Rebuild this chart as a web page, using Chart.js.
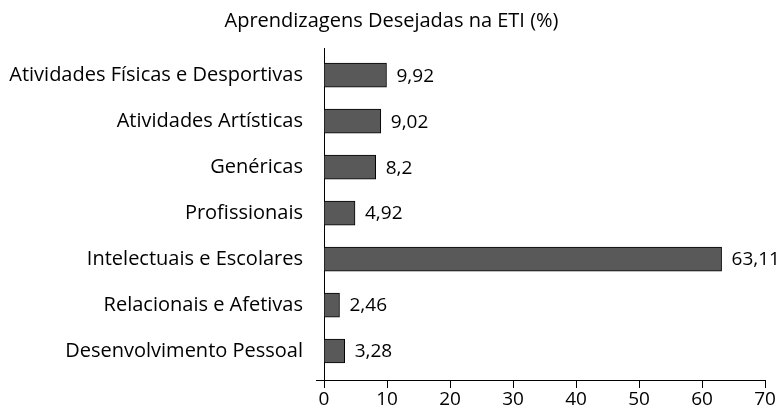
<!DOCTYPE html>
<html>
<head>
<meta charset="utf-8">
<script src="https://cdn.jsdelivr.net/npm/chart.js@4"></script>
<style>
  html, body { margin: 0; padding: 0; background: #fff; }
  #wrap { width: 783px; height: 411px; position: relative; }
</style>
</head>
<body>
<div id="wrap"><canvas id="chart"></canvas></div>
<script>
// ====== 資料 ======
const categories = [
  "Atividades Físicas e Desportivas",
  "Atividades Artísticas",
  "Genéricas",
  "Profissionais",
  "Intelectuais e Escolares",
  "Relacionais e Afetivas",
  "Desenvolvimento Pessoal"
];
const values = [9.92, 9.02, 8.2, 4.92, 63.11, 2.46, 3.28];
const xTicks = [0, 10, 20, 30, 40, 50, 60, 70];
const chartTitle = "Aprendizagens Desejadas na ETI (%)";

const FONT = '"Open Sans", "Noto Sans", sans-serif';
const BAR_COLOR = '#595959';

function fmt(v) {
  return String(v).replace('.', ',');
}

// ====== 數值標籤 ======
const valueLabelPlugin = {
  id: 'valueLabel',
  afterDatasetsDraw(chart) {
    const { ctx } = chart;
    const meta = chart.getDatasetMeta(0);
    ctx.save();
    ctx.fillStyle = '#000';
    ctx.font = '19px ' + FONT;
    ctx.textAlign = 'left';
    ctx.textBaseline = 'middle';
    meta.data.forEach((bar, i) => {
      ctx.fillText(fmt(values[i]), bar.x + 10, bar.y + 1);
    });
    ctx.restore();
  }
};

// 標題（整張圖置中，不受右側留白影響）
const titlePlugin = {
  id: 'centerTitle',
  afterDraw(chart) {
    const { ctx, width } = chart;
    ctx.save();
    ctx.fillStyle = '#000';
    ctx.font = '20px ' + FONT;
    ctx.textAlign = 'center';
    ctx.textBaseline = 'middle';
    ctx.fillText(chartTitle, width / 2, 21);
    ctx.restore();
  }
};

// x 軸線往左延伸一點（像 Excel）
const axisStubPlugin = {
  id: 'axisStub',
  afterDraw(chart) {
    const { ctx, chartArea } = chart;
    ctx.save();
    ctx.strokeStyle = '#000';
    ctx.lineWidth = 1;
    ctx.beginPath();
    ctx.moveTo(chartArea.left - 8, Math.round(chartArea.bottom) + 0.5);
    ctx.lineTo(chartArea.left, Math.round(chartArea.bottom) + 0.5);
    ctx.stroke();
    ctx.restore();
  }
};

new Chart(document.getElementById('chart'), {
  type: 'bar',
  data: {
    datasets: [{
      data: values.map((v, i) => ({ x: v, y: i })),
      backgroundColor: BAR_COLOR,
      borderColor: '#000',
      borderWidth: 1,
      barThickness: 24
    }]
  },
  options: {
    indexAxis: 'y',
    responsive: true,
    maintainAspectRatio: false,
    animation: false,
    layout: { padding: { left: 0, right: 18, top: 48, bottom: 0 } },
    scales: {
      x: {
        type: 'linear',
        min: 0,
        max: 70,
        afterBuildTicks: s => { s.ticks = xTicks.map(v => ({ value: v })); },
        afterFit: s => { s.height = 31; },
        grid: { display: true, drawOnChartArea: false, drawTicks: true, tickLength: 8, color: '#000' },
        border: { display: true, color: '#000', width: 1 },
        ticks: { color: '#000', font: { family: FONT, size: 19 }, padding: 0 }
      },
      y: {
        type: 'linear',
        reverse: true,
        offset: false,
        min: -0.59,
        max: 6.63,
        afterBuildTicks: s => { s.ticks = categories.map((c, i) => ({ value: i })); },
        afterFit: s => { s.width = 324; },
        grid: { display: false },
        border: { display: true, color: '#000', width: 1 },
        ticks: {
          color: '#000',
          font: { family: FONT, size: 20 },
          padding: 13,
          callback: v => categories[v]
        }
      }
    },
    plugins: {
      legend: { display: false },
      tooltip: { enabled: false },
      title: { display: false }
    }
  },
  plugins: [valueLabelPlugin, titlePlugin, axisStubPlugin]
});
</script>
</body>
</html>
